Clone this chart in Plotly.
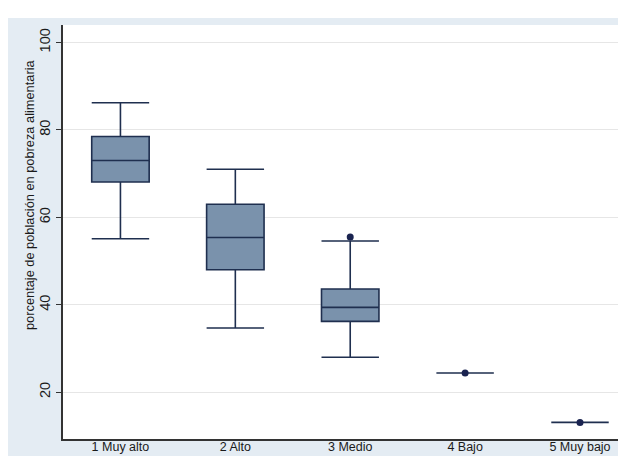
import plotly.graph_objects as go

categories = ["1 Muy alto", "2 Alto", "3 Medio", "4 Bajo", "5 Muy bajo"]
positions = [1, 2, 3, 4, 5]
lower_whisker = [55.1, 34.7, 28.0, 24.4, 13.1]
q1_values = [68.1, 48.0, 36.2, 24.4, 13.1]
median_values = [73.0, 55.4, 39.4, 24.4, 13.1]
q3_values = [78.5, 63.0, 43.6, 24.4, 13.1]
upper_whisker = [86.2, 71.0, 54.6, 24.4, 13.1]
outlier_x = [3, 4, 5]
outlier_y = [55.5, 24.4, 13.1]
y_ticks = [20, 40, 60, 80, 100]

fill_col = "#7a92ac"
line_col = "#1f2f4f"
marker_col = "#1a2350"

fig = go.Figure()
fig.add_trace(go.Box(
    x=positions,
    q1=q1_values, median=median_values, q3=q3_values,
    lowerfence=lower_whisker, upperfence=upper_whisker,
    fillcolor=fill_col,
    line=dict(color=line_col, width=1.6),
    whiskerwidth=1.0,
    width=0.5,
    boxpoints=False,
    showlegend=False,
    hoverinfo="skip",
))
fig.add_trace(go.Scatter(
    x=outlier_x, y=outlier_y, mode="markers",
    marker=dict(color=marker_col, size=7),
    showlegend=False, hoverinfo="skip",
))

fig.update_layout(
    width=626, height=456,
    margin=dict(l=55, r=0, t=17, b=25, pad=0),
    paper_bgcolor="#e4ecf3",
    plot_bgcolor="#ffffff",
    font=dict(family="Liberation Sans, Arial, sans-serif", color="#1a1a1a", size=12),
    shapes=[dict(type="rect", xref="paper", yref="paper",
                 x0=-0.2, x1=1.2, y0=1 + 7/414, y1=1.2,
                 fillcolor="#ffffff", line=dict(width=0), layer="below")],
    annotations=[dict(text="porcentaje de población en pobreza alimentaria",
                      xref="paper", yref="paper",
                      x=-(55 - 21) / 571, y=(431 - 187) / 414,
                      xanchor="center", yanchor="middle",
                      textangle=-90, showarrow=False,
                      font=dict(size=12.8, color="#1a1a1a"))],
)
fig.update_xaxes(
    range=[0.5, 5.47],
    tickvals=positions, ticktext=categories,
    showgrid=False, zeroline=False,
    showline=True, linecolor="#333333", linewidth=1.5,
    ticks="", tickfont=dict(size=12.5),
    automargin=False, ticklabelstandoff=-5,
)
fig.update_yaxes(
    range=[9.3, 104],
    tickvals=y_ticks,
    tickangle=-90,
    showgrid=True, gridcolor="#e6e6e6", gridwidth=1,
    zeroline=False,
    showline=True, linecolor="#333333", linewidth=1.5,
    ticks="outside", ticklen=5, tickcolor="#333333",
    tickfont=dict(size=14.5),
    automargin=False,
)

fig.write_html("out.html")
